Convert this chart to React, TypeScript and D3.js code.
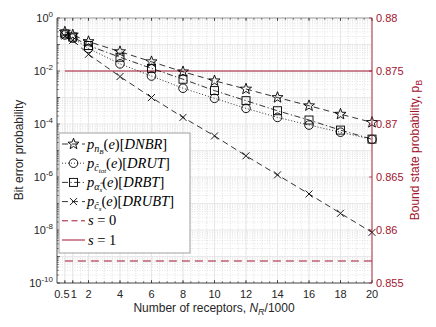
import React from "react";
import * as d3 from "d3";

const xVals = [0.5, 1, 2, 4, 6, 8, 10, 12, 14, 16, 18, 20];
// log10 of bit error probability
const dnbrLog = [-0.53, -0.64, -0.89, -1.27, -1.65, -2.03, -2.37, -2.68, -3.0, -3.31, -3.63, -3.94];
const drutLog = [-0.64, -0.76, -1.15, -1.73, -2.19, -2.65, -3.03, -3.41, -3.75, -4.04, -4.31, -4.58];
const drbtLog = [-0.6, -0.72, -1.04, -1.48, -1.9, -2.31, -2.74, -3.12, -3.5, -3.85, -4.23, -4.57];
const drubtLog = [-0.68, -0.84, -1.37, -2.21, -3.0, -3.75, -4.45, -5.2, -5.92, -6.64, -7.37, -8.09];
const boundS0 = 0.85708;
const boundS1 = 0.875;
const xTicks = [0.5, 1, 2, 4, 6, 8, 10, 12, 14, 16, 18, 20];
const xTickLabels = ["0.5", "1", "2", "4", "6", "8", "10", "12", "14", "16", "18", "20"];
const yExpLabels = [0, -2, -4, -6, -8, -10];
const rightTicks = [0.855, 0.86, 0.865, 0.87, 0.875, 0.88];
const rightTickLabels = ["0.855", "0.86", "0.865", "0.87", "0.875", "0.88"];

const W = 436, H = 327;
const L = 57, R = 372, T = 18, B = 283;
const RED = "#A2142F";
const AX = "#262626";

const x = d3.scaleLinear().domain([0, 20]).range([L, R]);
const y = d3.scaleLog().domain([1e-10, 1]).range([B, T]);
const yr = d3.scaleLinear().domain([0.855, 0.88]).range([B, T]);

function starPath(cx: number, cy: number, ro: number, ri: number) {
  const pts: string[] = [];
  for (let i = 0; i < 10; i++) {
    const a = -Math.PI / 2 + (i * Math.PI) / 5;
    const r = i % 2 === 0 ? ro : ri;
    pts.push(`${cx + r * Math.cos(a)},${cy + r * Math.sin(a)}`);
  }
  return "M" + pts.join("L") + "Z";
}

function Marker({ kind, cx, cy }: { kind: string; cx: number; cy: number }) {
  const st = { fill: "none", stroke: "#000", strokeWidth: 0.9 };
  if (kind === "star") return <path d={starPath(cx, cy, 5.8, 2.4)} {...st} />;
  if (kind === "circle") return <circle cx={cx} cy={cy} r={4.3} {...st} />;
  if (kind === "square") return <rect x={cx - 4} y={cy - 4} width={8} height={8} {...st} />;
  return (
    <path d={`M${cx - 3.5},${cy - 3.5}L${cx + 3.5},${cy + 3.5}M${cx - 3.5},${cy + 3.5}L${cx + 3.5},${cy - 3.5}`} {...st} />
  );
}

const series = [
  { data: dnbrLog, kind: "star", dash: "6,4" },
  { data: drutLog, kind: "circle", dash: "1,2" },
  { data: drbtLog, kind: "square", dash: "6,2.5,1.2,2.5" },
  { data: drubtLog, kind: "x", dash: "6,4" },
];

export default function App() {
  const line = d3
    .line<[number, number]>()
    .x((d) => x(d[0]))
    .y((d) => y(Math.pow(10, d[1])));

  const minorY: number[] = [];
  const majorY: number[] = [];
  for (let e = -10; e <= 0; e++) {
    majorY.push(Math.pow(10, e));
    if (e < 0) for (let m = 2; m <= 9; m++) minorY.push(m * Math.pow(10, e));
  }
  const minorX: number[] = [];
  for (let v = 0.5; v < 20; v += 0.5) minorX.push(v);

  const legendItems = [
    { kind: "star", dash: "6,4", sub: "n", subsub: "B", label: "DNBR" },
    { kind: "circle", dash: "1,2", sub: "ĉ", subsub: "tot", label: "DRUT" },
    { kind: "square", dash: "6,2.5,1.2,2.5", sub: "α̂", subsub: "s", label: "DRBT" },
    { kind: "x", dash: "6,4", sub: "ĉ", subsub: "s", label: "DRUBT" },
  ];
  const lgX = 59, lgY = 133, lgW = 131, lgH = 120;
  const rowY = (i: number) => 144 + i * 19.2;
  const serif = "'Liberation Serif', 'DejaVu Serif', serif";
  const fs = 14.5;

  return (
    <svg width={W} height={H} style={{ position: "absolute", left: 0, top: 0, background: "#fff" }}
      fontFamily="'Liberation Sans', Arial, sans-serif">
      <rect x={0} y={0} width={W} height={H} fill="#fff" />
      {/* grid */}
      {minorX.map((v, i) => (
        <line key={"mx" + i} x1={x(v)} x2={x(v)} y1={T} y2={B} stroke="#d0d0d0" strokeWidth={0.6} strokeDasharray="1,1.5" />
      ))}
      {minorY.map((v, i) => (
        <line key={"my" + i} x1={L} x2={R} y1={y(v)} y2={y(v)} stroke="#d0d0d0" strokeWidth={0.6} strokeDasharray="1,1.5" />
      ))}
      {xTicks.map((v, i) => (
        <line key={"gx" + i} x1={x(v)} x2={x(v)} y1={T} y2={B} stroke="#e3e3e3" strokeWidth={0.8} />
      ))}
      {majorY.map((v, i) => (
        <line key={"gy" + i} x1={L} x2={R} y1={y(v)} y2={y(v)} stroke="#e3e3e3" strokeWidth={0.8} />
      ))}

      {/* bound state lines (right axis) */}
      <line x1={x(0.5)} x2={R} y1={yr(boundS1)} y2={yr(boundS1)} stroke={RED} strokeWidth={1.1} />
      <line x1={x(0.5)} x2={R} y1={yr(boundS0)} y2={yr(boundS0)} stroke={RED} strokeWidth={1.1} strokeDasharray="8,5" />

      {/* series */}
      {series.map((s, si) => {
        const pts = xVals.map((xv, i) => [xv, s.data[i]] as [number, number]);
        return (
          <g key={"s" + si}>
            <path d={line(pts) || ""} fill="none" stroke="#000" strokeWidth={0.8} strokeDasharray={s.dash} />
            {pts.map((p, i) => (
              <Marker key={i} kind={s.kind} cx={x(p[0])} cy={y(Math.pow(10, p[1]))} />
            ))}
          </g>
        );
      })}

      {/* axes box */}
      <line x1={L} x2={R} y1={T} y2={T} stroke="#8a8a8a" strokeWidth={0.8} />
      <line x1={L} x2={R} y1={B} y2={B} stroke={AX} strokeWidth={0.8} />
      <line x1={L} x2={L} y1={T} y2={B} stroke={AX} strokeWidth={0.8} />
      <line x1={R} x2={R} y1={T} y2={B} stroke={RED} strokeWidth={0.9} />

      {/* x ticks */}
      {xTicks.map((v, i) => (
        <g key={"xt" + i}>
          <line x1={x(v)} x2={x(v)} y1={B} y2={B - 3} stroke={AX} strokeWidth={0.7} />
          <line x1={x(v)} x2={x(v)} y1={T} y2={T + 3} stroke={AX} strokeWidth={0.7} />
        </g>
      ))}
      {minorX.map((v, i) => (
        <g key={"xmt" + i}>
          <line x1={x(v)} x2={x(v)} y1={B} y2={B - 1.8} stroke={AX} strokeWidth={0.6} />
          <line x1={x(v)} x2={x(v)} y1={T} y2={T + 1.8} stroke={AX} strokeWidth={0.6} />
        </g>
      ))}
      {xTicks.map((v, i) => (
        <text key={"xl" + i} x={x(v) + (v === 0.5 ? -3 : v === 1 ? 1 : 0)} y={B + 15} fontSize={11} textAnchor="middle" fill={AX}>
          {xTickLabels[i]}
        </text>
      ))}

      {/* left y ticks */}
      {majorY.map((v, i) => (
        <line key={"yt" + i} x1={L} x2={L + 3} y1={y(v)} y2={y(v)} stroke={AX} strokeWidth={0.7} />
      ))}
      {minorY.map((v, i) => (
        <line key={"ymt" + i} x1={L} x2={L + 1.8} y1={y(v)} y2={y(v)} stroke={AX} strokeWidth={0.6} />
      ))}
      {yExpLabels.map((e, i) => (
        <text key={"yl" + i} x={L - 4} y={y(Math.pow(10, e)) + 4} fontSize={11} textAnchor="end" fill={AX}>
          10<tspan dy={-5} fontSize={8}>{String(e)}</tspan>
        </text>
      ))}

      {/* right ticks */}
      {rightTicks.map((v, i) => (
        <g key={"rt" + i}>
          <line x1={R} x2={R - 3} y1={yr(v)} y2={yr(v)} stroke={RED} strokeWidth={0.7} />
          <text x={R + 4} y={yr(v) + 4} fontSize={11} fill={RED}>
            {rightTickLabels[i]}
          </text>
        </g>
      ))}

      {/* axis labels */}
      <text transform={`translate(${23},${150}) rotate(-90)`} fontSize={12} textAnchor="middle" fill={AX}>
        Bit error probability
      </text>
      <text transform={`translate(${419},${150}) rotate(-90)`} fontSize={12} textAnchor="middle" fill={RED}>
        Bound state probability, p<tspan dy={3} fontSize={9}>B</tspan>
      </text>
      <text x={214} y={312} fontSize={12} textAnchor="middle" fill={AX}>
        Number of receptors, <tspan fontStyle="italic">N</tspan>
        <tspan dy={3} fontSize={9} fontStyle="italic">R</tspan>
        <tspan dy={-3}>/1000</tspan>
      </text>

      {/* legend */}
      <rect x={lgX} y={lgY} width={lgW} height={lgH} fill="#fff" stroke="#8a8a8a" strokeWidth={0.8} />
      {legendItems.map((it, i) => (
        <g key={"lg" + i}>
          <line x1={62} x2={85} y1={rowY(i)} y2={rowY(i)} stroke="#000" strokeWidth={0.8} strokeDasharray={it.dash} />
          <Marker kind={it.kind} cx={73.5} cy={rowY(i)} />
          <text x={87} y={rowY(i) + 4.5} fontSize={fs} fontFamily={serif} fill="#000">
            <tspan fontStyle="italic">p</tspan>
            <tspan dy={3} fontSize={10} fontStyle="italic">{it.sub}</tspan>
            <tspan dy={2} fontSize={7} fontStyle="italic">{it.subsub}</tspan>
            <tspan dy={-5}>(</tspan>
            <tspan fontStyle="italic">e</tspan>
            <tspan>)[</tspan>
            <tspan fontStyle="italic">{it.label}</tspan>
            <tspan>]</tspan>
          </text>
        </g>
      ))}
      <line x1={62} x2={85} y1={rowY(4)} y2={rowY(4)} stroke={RED} strokeWidth={1} strokeDasharray="6,3.5" />
      <text x={88} y={rowY(4) + 4.5} fontSize={fs} fontFamily={serif} fill="#000">
        <tspan fontStyle="italic">s</tspan> = 0
      </text>
      <line x1={62} x2={85} y1={rowY(5)} y2={rowY(5)} stroke={RED} strokeWidth={1} />
      <text x={88} y={rowY(5) + 4.5} fontSize={fs} fontFamily={serif} fill="#000">
        <tspan fontStyle="italic">s</tspan> = 1
      </text>
    </svg>
  );
}
